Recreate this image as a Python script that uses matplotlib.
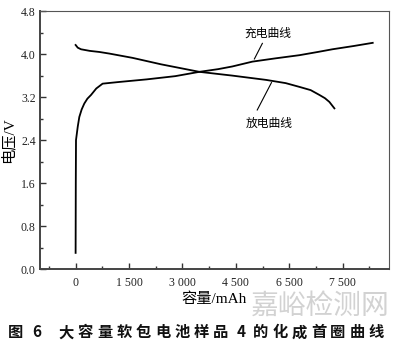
import numpy as np
import matplotlib.pyplot as plt
from matplotlib.ticker import FixedLocator, MultipleLocator

plt.rcParams['font.family'] = ['Liberation Serif', 'Noto Sans CJK SC']

# charge curve (capacity mAh, voltage V)
charge_cap = [0, 5, 11, 60, 104, 170, 244, 330, 433, 580, 758, 1200, 2000, 2800, 3475,
              4000, 4400, 4963, 5600, 6284, 6800, 7211, 7800, 8343]
charge_v = [0.30, 1.6, 2.40, 2.65, 2.83, 2.97, 3.08, 3.17, 3.24, 3.36, 3.45, 3.48, 3.53,
            3.59, 3.67, 3.72, 3.77, 3.86, 3.92, 3.98, 4.04, 4.09, 4.15, 4.21]

# discharge curve
discharge_cap = [0, 60, 152, 400, 666, 947, 1600, 2400, 3475, 4400, 5348, 5900, 6284,
                 6600, 6846, 7000, 7126, 7267]
discharge_v = [4.17, 4.12, 4.09, 4.06, 4.04, 4.01, 3.93, 3.81, 3.67, 3.60, 3.52, 3.46,
               3.39, 3.33, 3.24, 3.18, 3.11, 2.99]

xtick_pos = [0, 1500, 3000, 4500, 6000, 7500]
xtick_labels = ['0', '1 500', '3 000', '4 500', '6 500', '7 500']

caption = '图 6   大容量软包电池样品 4 的化成首圈曲线'

fig = plt.figure(figsize=(4.0, 3.48), dpi=100)
ax = fig.add_axes([0.1, 0.227, 0.8725, 0.741])

ax.plot(charge_cap, charge_v, color='black', lw=1.3)
ax.plot(discharge_cap, discharge_v, color='black', lw=1.3)

ax.set_xlim(-1000, 8800)
ax.set_ylim(0, 4.8)
ax.xaxis.set_major_locator(FixedLocator(xtick_pos))
ax.set_xticklabels(xtick_labels)
ax.xaxis.set_minor_locator(MultipleLocator(750))
ax.yaxis.set_major_locator(MultipleLocator(0.8))
ax.yaxis.set_minor_locator(MultipleLocator(0.4))
ax.tick_params(which='major', direction='in', length=4, width=1, labelsize=8.5,
               colors='#333333', labelcolor='#222222')
ax.tick_params(which='minor', direction='in', length=2, width=1, colors='#333333')
ax.tick_params(axis='x', pad=6)
ax.tick_params(axis='y', pad=3)

for side in ['left', 'bottom']:
    ax.spines[side].set_linewidth(1.4)
    ax.spines[side].set_color('#444444')
for side in ['top', 'right']:
    ax.spines[side].set_linewidth(0.8)
    ax.spines[side].set_color('#555555')

ax.set_ylabel('电压/V', fontsize=11, labelpad=4)
ax.set_xlabel('容量/mAh', fontsize=11, labelpad=2)

# curve labels with short leader lines
ax.text(5400, 4.38, '充电曲线', fontsize=8.5, ha='center', va='center')
ax.plot([5020, 5244], [3.91, 4.20], color='black', lw=0.8)
ax.text(5440, 2.70, '放电曲线', fontsize=8.5, ha='center', va='center')
ax.plot([5500, 5100], [3.47, 2.96], color='black', lw=0.8)

# watermark above the caption
fig.text(0.975, 0.122, '嘉峪检测网', fontsize=20, family=['Noto Sans CJK SC'],
         color='#d2d2d2', ha='right', va='center')

# caption laid out char by char for wide spacing
x = 8
for ch in caption:
    if ch == ' ':
        x += 5
        continue
    fig.text(x / 400, 0.045, ch, fontsize=11, fontweight='bold',
             family=['Noto Sans CJK SC'], color='#111111', va='center')
    x += 11 if ch.isdigit() else 19.3

fig.savefig('out.png', dpi=100)
